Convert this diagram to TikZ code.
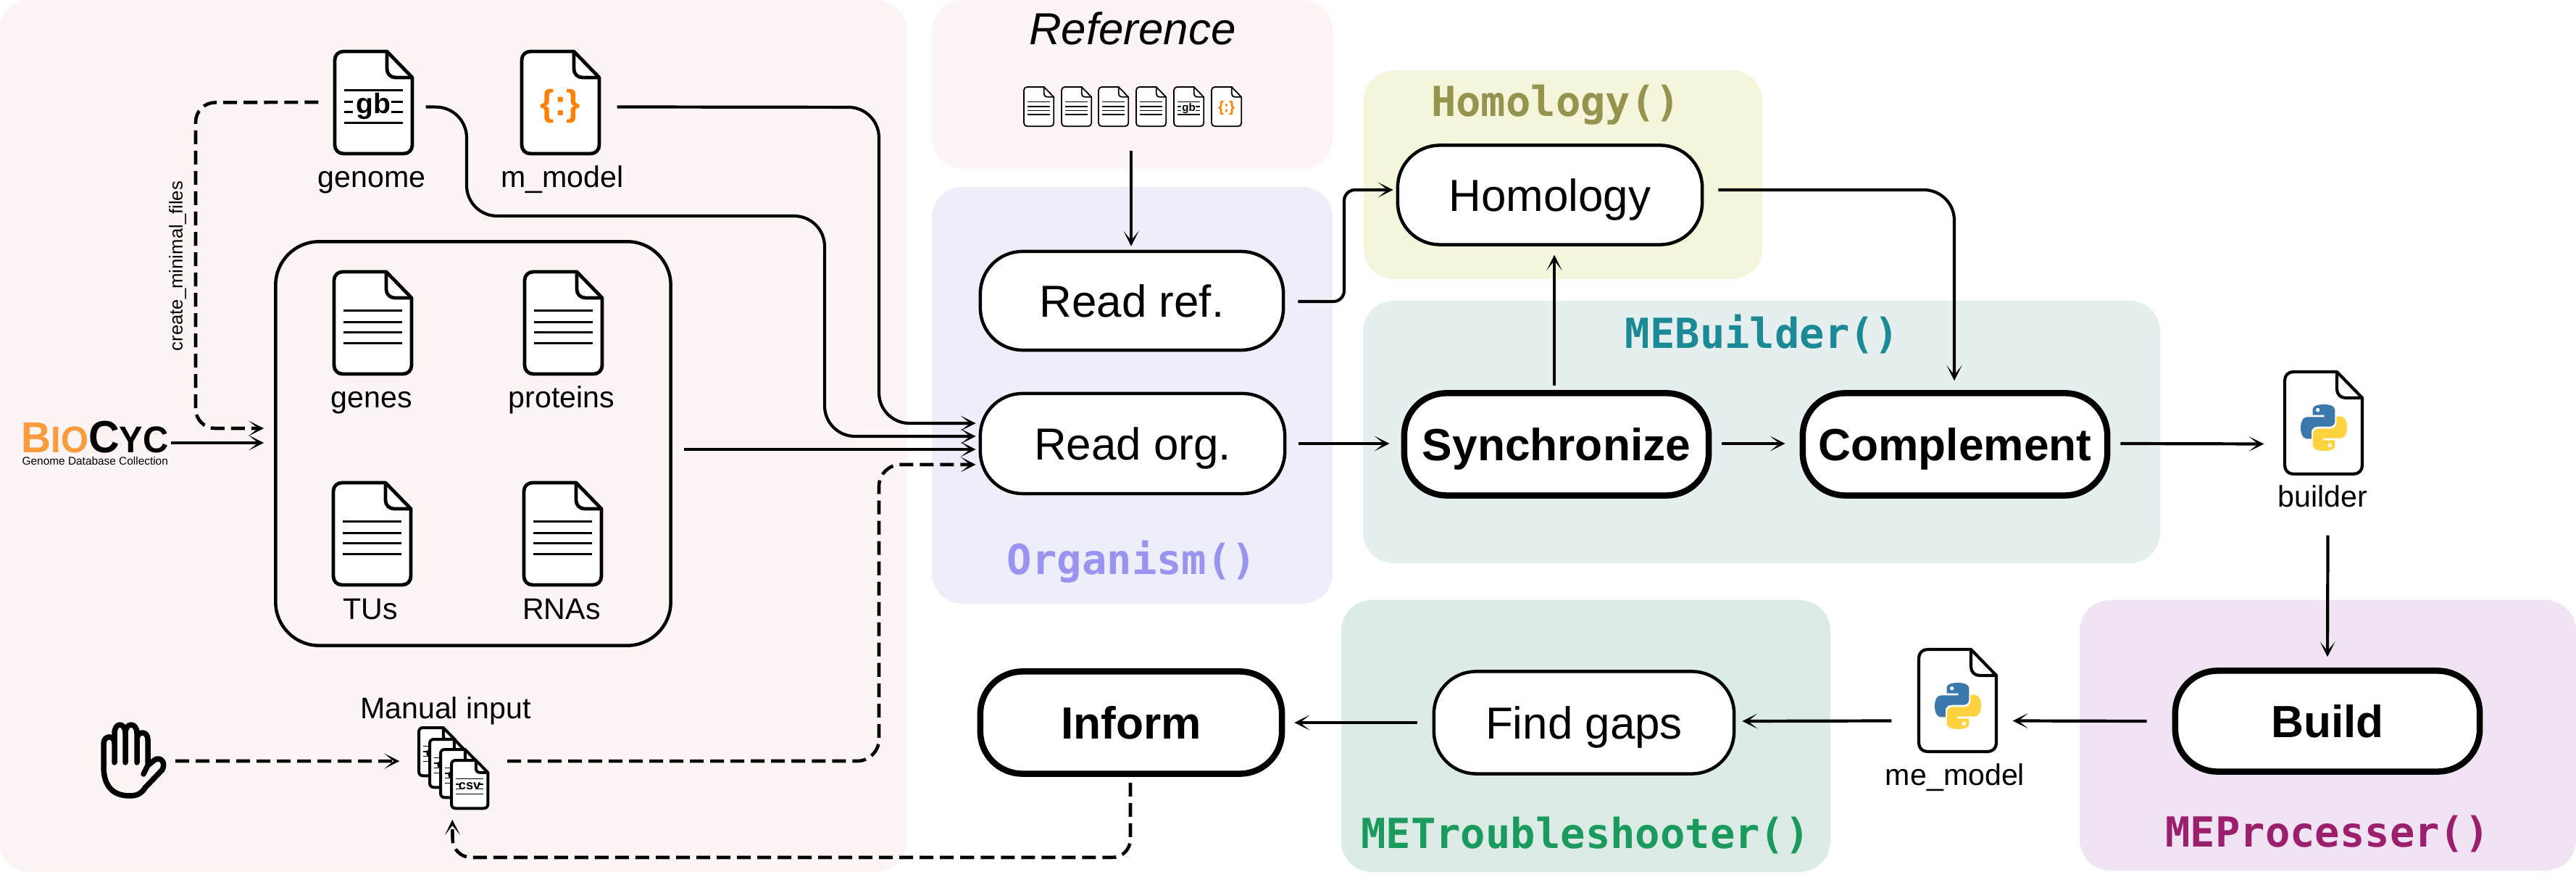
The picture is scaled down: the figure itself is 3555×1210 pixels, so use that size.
\documentclass[tikz,border=0pt]{standalone}
\usepackage{fontspec}
\setmainfont{Liberation Sans}
\setmonofont{DejaVu Sans Mono}
\usetikzlibrary{arrows.meta,calc,fit}
\definecolor{pPink}{HTML}{FDF4F4}
\definecolor{pBlue}{HTML}{EEEEFA}
\definecolor{pOlive}{HTML}{F4F5DA}
\definecolor{pTeal}{HTML}{E6EFF0}
\definecolor{pGreen}{HTML}{DCEBE5}
\definecolor{pPurple}{HTML}{F0E3F3}
\definecolor{cOlive}{HTML}{94944F}
\definecolor{cBlue}{HTML}{9894F0}
\definecolor{cTeal}{HTML}{1B8A96}
\definecolor{cGreen}{HTML}{1A9A5C}
\definecolor{cPurple}{HTML}{9C1F6E}
\definecolor{cOrange}{HTML}{FF8000}
\definecolor{cBio}{HTML}{FB9C3C}
\definecolor{pyBlue}{HTML}{3B78AB}
\definecolor{pyYellow}{HTML}{FFD340}
\tikzset{
  panel/.style={rounded corners=0.42cm,draw=none},
  proc/.style={draw=black,fill=white,line width=0.045cm,rounded corners=0.58cm,inner sep=0pt,
    text height=0.44cm,text depth=0pt,font=\fontsize{17.6}{20}\selectfont},
  procb/.style={proc,line width=0.085cm,font=\fontsize{17.7}{20}\selectfont\bfseries},
  flabel/.style={anchor=base,inner sep=0pt,font=\fontsize{11.7}{14}\selectfont},
  cls/.style={anchor=base,inner sep=0pt,font=\fontsize{16.25}{19}\selectfont\ttfamily\bfseries},
  conn/.style={line width=0.042cm,-{Stealth[length=0.21cm,width=0.21cm,inset=0.13cm]}},
  rconn/.style={conn,rounded corners=0.42cm},
  dconn/.style={conn,line width=0.046cm,dash pattern=on 0.19cm off 0.09cm},
  rdconn/.style={dconn,rounded corners=0.27cm}
}
\newcommand{\plainlines}[1]{%
  \draw[line width=#1] (13,54)--(94,54) (13,70)--(94,70) (13,84)--(94,84) (13,99)--(94,99);}
\newcommand{\labellines}[3]{%
  \draw[line width=#1] (13,54)--(94,54) (13,99)--(94,99)
    (13,70)--(25,70) (78,70)--(94,70) (13,84)--(25,84) (78,84)--(94,84);
  \node[inner sep=0pt,font=\fontsize{#2}{#2}\selectfont\bfseries] at (53.5,76) {#3};}
\newcommand{\curlytext}[1]{%
  \node[inner sep=0pt,text=cOrange,font=\fontsize{#1}{#1}\selectfont\bfseries] at (53.5,76) {\{:\}};}
\newcommand{\fileicon}[6]{%
  \begin{scope}[shift={(#2,#3)},scale=#4]
    \draw[fill=white,line width=#5,line join=round]
      (72,0) -- (107,36) -- (107,129) .. controls (107,136) and (102,141) .. (95,141)
      -- (12,141) .. controls (5,141) and (0,136) .. (0,129)
      -- (0,12) .. controls (0,5) and (5,0) .. (12,0) -- cycle;
    \draw[line width=#5,line join=round]
      (72,0) -- (72,24) .. controls (72,31) and (77,36) .. (84,36) -- (107,36);
    \coordinate (#1-nw) at (0,0);
    \coordinate (#1-se) at (107,141);
    #6
  \end{scope}
  \node[fit=(#1-nw)(#1-se),inner sep=0pt] (#1) {};}
\newcommand{\pylogo}[3]{%
  \begin{scope}[shift={(#1,#2)},scale=#3]
    \fill[pyBlue,even odd rule] (50,0) .. controls (24,0) and (26,11) .. (26,11) -- (26,23) -- (51,23) -- (51,27) -- (16,27)
      .. controls (16,27) and (0,25) .. (0,50) .. controls (0,75) and (14,74) .. (14,74) -- (23,74) -- (23,62)
      .. controls (23,62) and (22,48) .. (36,48) -- (61,48) .. controls (61,48) and (74,48) .. (74,36) -- (74,13)
      .. controls (74,13) and (76,0) .. (50,0) -- cycle (37,12) circle[radius=4.5];
    \fill[pyYellow,even odd rule] (50,100) .. controls (76,100) and (74,89) .. (74,89) -- (74,77) -- (49,77) -- (49,73) -- (84,73)
      .. controls (84,73) and (100,75) .. (100,50) .. controls (100,25) and (86,26) .. (86,26) -- (77,26) -- (77,38)
      .. controls (77,38) and (78,52) .. (64,52) -- (39,52) .. controls (39,52) and (26,52) .. (26,64) -- (26,87)
      .. controls (26,87) and (24,100) .. (50,100) -- cycle (63,88) circle[radius=4.5];
  \end{scope}}
\begin{document}
\begin{tikzpicture}[x=0.01cm,y=-0.01cm]
\useasboundingbox (0,0) rectangle (3555,1210);
\fill[white] (0,0) rectangle (3555,1210);
% panels
\fill[panel,pPink] (-1,0) rectangle (1252,1203);
\fill[panel,pPink] (1286,0) rectangle (1839,233);
\fill[panel,pBlue] (1286,258) rectangle (1839,833);
\fill[panel,pOlive] (1882,97) rectangle (2432,385);
\fill[panel,pTeal] (1881,415) rectangle (2981,777);
\fill[panel,pGreen] (1851,828) rectangle (2526,1203);
\fill[panel,pPurple] (2870,828) rectangle (3555,1201);
% class labels
\node[cls,text=cOlive] (lhom) at (2147,161) {Homology()};
\node[cls,text=cBlue] (lorg) at (1562,793) {Organism()};
\node[cls,text=cTeal] (lbuilder) at (2432,481) {MEBuilder()};
\node[cls,text=cGreen] (ltrouble) at (2188,1170) {METroubleshooter()};
\node[cls,text=cPurple] (lproc) at (3212,1168) {MEProcesser()};
% reference
\node[anchor=base,inner sep=0pt,font=\fontsize{17.6}{21}\selectfont\itshape] (lref) at (1563,62) {Reference};
\fileicon{r1}{1413}{120}{0.385}{0.018cm}{\plainlines{0.014cm}}
\fileicon{r2}{1465}{120}{0.385}{0.018cm}{\plainlines{0.014cm}}
\fileicon{r3}{1516}{120}{0.385}{0.018cm}{\plainlines{0.014cm}}
\fileicon{r4}{1568}{120}{0.385}{0.018cm}{\plainlines{0.014cm}}
\fileicon{r5}{1620}{120}{0.385}{0.018cm}{\labellines{0.014cm}{4.3}{gb}}
\fileicon{r6}{1672}{120}{0.385}{0.018cm}{\curlytext{5.9}}
% input files
\fileicon{genome}{462}{71}{1}{0.048cm}{\labellines{0.03cm}{11.1}{gb}}
\fileicon{mmodel}{720}{71}{1}{0.048cm}{\curlytext{14.2}}
\node[flabel] (lgenome) at (513,259) {genome};
\node[flabel] (lmmodel) at (776,259) {m\_model};
\node[draw=black,line width=0.045cm,rounded corners=0.6cm,minimum width=5.45cm,minimum height=5.57cm,inner sep=0pt] (box) at (653,612) {};
\fileicon{genes}{461}{375}{1}{0.048cm}{\plainlines{0.03cm}}
\fileicon{proteins}{724}{375}{1}{0.048cm}{\plainlines{0.03cm}}
\fileicon{tus}{460}{666}{1}{0.048cm}{\plainlines{0.03cm}}
\fileicon{rnas}{723}{666}{1}{0.048cm}{\plainlines{0.03cm}}
\node[flabel] (lgenes) at (513,563) {genes};
\node[flabel] (lproteins) at (775,563) {proteins};
\node[flabel] (ltus) at (511,855) {TUs};
\node[flabel] (lrnas) at (775,855) {RNAs};
% biocyc
\node[anchor=base west,inner sep=0pt,font=\bfseries,text depth=0pt] (biocyc) at (29,625) {\scalebox{0.95}[1]{%
  \textcolor{cBio}{\fontsize{17}{20}\selectfont B\fontsize{14.6}{20}\selectfont IO}%
  \fontsize{17.7}{20}\selectfont C\fontsize{14.6}{20}\selectfont YC}};
\node[anchor=base west,inner sep=0pt,font=\fontsize{4.38}{5}\selectfont] (biosub) at (30,642) {Genome Database Collection};
% manual
\node[flabel] (lmanual) at (615,991) {Manual input};
\fileicon{c1}{578}{1004}{0.47}{0.04cm}{\labellines{0.014cm}{5.2}{csv}}
\fileicon{c2}{593}{1020}{0.47}{0.04cm}{\labellines{0.014cm}{5.2}{csv}}
\fileicon{c3}{608}{1034}{0.47}{0.04cm}{\labellines{0.014cm}{5.2}{csv}}
\fileicon{c4}{623}{1049}{0.47}{0.04cm}{\labellines{0.014cm}{5.2}{csv}}
% hand
\draw[line width=0.075cm,line cap=round,line join=round]
  (158,1052) -- (158,1025) .. controls (158,1014) and (143,1014) .. (143,1026) -- (143,1058)
  .. controls (143,1080) and (152,1098) .. (179,1098) .. controls (190,1098) and (196,1094) .. (200,1087)
  -- (224,1062) .. controls (229,1052) and (222,1044) .. (214,1048) -- (204,1056) -- (204,1020)
  .. controls (204,1008) and (189,1008) .. (189,1020) -- (189,1052)
  (173,1052) -- (173,1012) .. controls (173,996) and (158,996) .. (158,1012) -- (158,1025)
  (189,1020) -- (189,1012) .. controls (189,996) and (173,996) .. (173,1012)
  (204,1056) -- (198,1068);
\coordinate (hand) at (185,1050);
% process nodes
\node[proc,minimum width=4.18cm,minimum height=1.36cm] (readref) at (1562,415) {Read ref.};
\node[proc,minimum width=4.2cm,minimum height=1.38cm] (readorg) at (1563,612) {Read org.};
\node[proc,minimum width=4.2cm,minimum height=1.37cm] (homology) at (2139,269) {Homology};
\node[procb,minimum width=4.2cm,minimum height=1.41cm] (sync) at (2148,613) {Synchronize};
\node[procb,minimum width=4.2cm,minimum height=1.41cm] (compl) at (2698,613) {Complement};
\node[procb,minimum width=4.16cm,minimum height=1.41cm] (inform) at (1561,997) {Inform};
\node[proc,minimum width=4.14cm,minimum height=1.41cm] (findgaps) at (2186,997) {Find gaps};
\node[procb,minimum width=4.2cm,minimum height=1.39cm] (build) at (3212,995) {Build};
% python files
\fileicon{builderf}{3153}{513}{1}{0.042cm}{}
\pylogo{3175}{558}{0.64}
\node[flabel] (lbuilderf) at (3205,700) {builder};
\fileicon{memodel}{2648}{896}{1}{0.042cm}{}
\pylogo{2670}{942}{0.64}
\node[flabel] (lmemodel) at (2698,1083) {me\_model};
% connectors
\coordinate (boxinA) at ($(box.west)+(-14,-21)$);
\coordinate (boxinB) at ($(box.west)+(-14,-1)$);
\draw[rconn] ($(mmodel.east)+(24,6)$) -- (1213,148) -- (1213,584) -- ($(readorg.west)+(-4,-28)$);
\draw[rconn] ($(genome.east)+(18,6)$) -- (644,148) -- (644,298) -- (1138,298) -- (1138,602) -- ($(readorg.west)+(-4,-10)$);
\draw[conn] ($(box.east)+(16,8)$) -- ($(readorg.west)+(-4,8)$);
\draw[rdconn,rounded corners=0.3cm] ($(c4.east)+(26,-32)$) -- (1213,1050) -- (1213,641) -- ($(readorg.west)+(-4,29)$);
\draw[dconn] ($(hand)+(57,0)$) -- ($(c1.west)+(-26,13)$);
\draw[rdconn] ($(genome.west)+(-22,-0.5)$) -- (270,141.5) -- (270,591) -- (boxinA);
\draw[conn] (236,611) -- (boxinB);
\draw[conn] (1561,208) -- ($(readref.north)+(-1,-5)$);
\draw[conn,rounded corners=0.15cm] ($(readref.east)+(18,1)$) -- (1855,416) -- (1855,262) -- ($(homology.west)+(-4,-7)$);
\draw[conn] ($(readorg.east)+(17,0)$) -- ($(sync.west)+(-16,-1)$);
\draw[conn] ($(sync.north)+(-3,-6)$) -- ($(homology.south)+(6,12)$);
\draw[conn] ($(sync.east)+(14,-1)$) -- ($(compl.west)+(-20,-1)$);
\draw[rconn] ($(homology.east)+(20,-7)$) -- (2697,262) -- ($(compl.north)+(-1,-13)$);
\draw[conn] ($(compl.east)+(14,-1)$) -- ($(builderf.west)+(-28,29)$);
\draw[conn] ($(builderf.south)+(6,84)$) -- ($(build.north)+(0,-15)$);
\draw[conn] ($(build.west)+(-35,0)$) -- ($(memodel.east)+(22,28)$);
\draw[conn] ($(memodel.west)+(-37,28)$) -- ($(findgaps.east)+(9,-2)$);
\draw[conn] ($(findgaps.west)+(-21,0)$) -- ($(inform.east)+(13,0)$);
\draw[rdconn,rounded corners=0.25cm] ($(inform.south)+(-1,8)$) -- (1560,1183) -- (625,1183) -- ($(c4.south)+(-24,15)$);
% create label
\node[rotate=90,inner sep=0pt,font=\fontsize{7.31}{9}\selectfont] (lcreate) at (245,367) {create\_minimal\_files};
\end{tikzpicture}
\end{document}
